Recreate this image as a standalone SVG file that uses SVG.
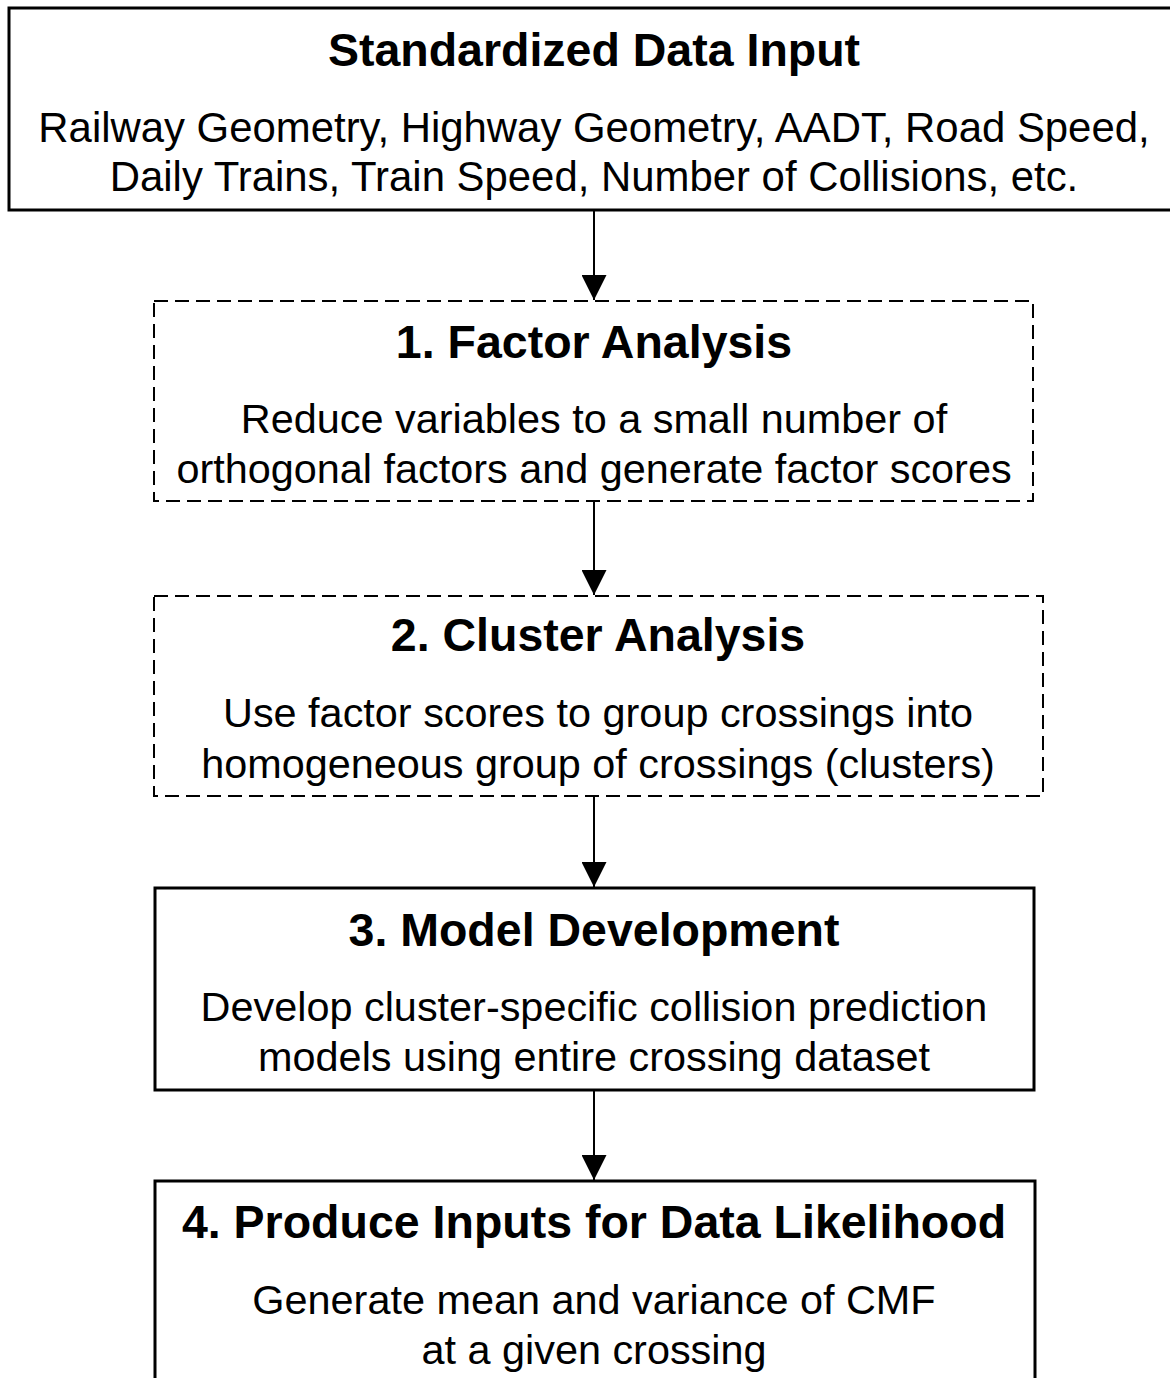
<svg xmlns="http://www.w3.org/2000/svg" width="1170" height="1378" viewBox="0 0 1170 1378">
  <style>
    .box { fill: #ffffff; stroke: #000000; stroke-width: 3; }
    .dash { fill: #ffffff; stroke: #000000; stroke-width: 2; stroke-dasharray: 14 7; }
    .title { font-family: "Liberation Sans", Arial, sans-serif; font-weight: bold; font-size: 46.5px; text-anchor: middle; fill: #000000; }
    .body { font-family: "Liberation Sans", Arial, sans-serif; font-size: 41.4px; text-anchor: middle; fill: #000000; }
    .wide { font-size: 41.9px; }
    .link { stroke: #000000; stroke-width: 2; fill: none; }
  </style>
  <defs>
    <marker id="head" markerWidth="25" markerHeight="25" refX="25" refY="12.5" orient="auto" markerUnits="userSpaceOnUse">
      <path d="M0,0 L25,12.5 L0,25 Z" fill="#000000"/>
    </marker>
  </defs>
  <rect width="1170" height="1378" fill="#ffffff"/>

  <g id="connectors">
    <line class="link" x1="594" y1="211" x2="594" y2="300" marker-end="url(#head)"/>
    <line class="link" x1="594" y1="502" x2="594" y2="595" marker-end="url(#head)"/>
    <line class="link" x1="594" y1="796" x2="594" y2="887" marker-end="url(#head)"/>
    <line class="link" x1="594" y1="1090" x2="594" y2="1180" marker-end="url(#head)"/>
  </g>

  <g id="input">
    <rect class="box" x="9" y="8" width="1180" height="202"/>
    <text class="title" x="594" y="66">Standardized Data Input</text>
    <text class="body wide" x="594" y="142">Railway Geometry, Highway Geometry, AADT, Road Speed,</text>
    <text class="body wide" x="594" y="191">Daily Trains, Train Speed, Number of Collisions, etc.</text>
  </g>

  <g id="factor-analysis">
    <rect class="dash" x="154" y="301" width="879" height="200"/>
    <text class="title" x="594" y="358">1. Factor Analysis</text>
    <text class="body" x="594" y="433">Reduce variables to a small number of</text>
    <text class="body" x="594" y="483">orthogonal factors and generate factor scores</text>
  </g>

  <g id="cluster-analysis">
    <rect class="dash" x="154" y="596" width="889" height="200"/>
    <text class="title" x="598" y="651">2. Cluster Analysis</text>
    <text class="body" x="598" y="727">Use factor scores to group crossings into</text>
    <text class="body" x="598" y="778">homogeneous group of crossings (clusters)</text>
  </g>

  <g id="model-development">
    <rect class="box" x="155" y="888" width="879" height="202"/>
    <text class="title" x="594" y="946">3. Model Development</text>
    <text class="body" x="594" y="1021">Develop cluster-specific collision prediction</text>
    <text class="body" x="594" y="1071">models using entire crossing dataset</text>
  </g>

  <g id="likelihood-inputs">
    <rect class="box" x="155" y="1181" width="880" height="220"/>
    <text class="title" x="594" y="1238">4. Produce Inputs for Data Likelihood</text>
    <text class="body" x="594" y="1314">Generate mean and variance of CMF</text>
    <text class="body" x="594" y="1364">at a given crossing</text>
  </g>
</svg>
